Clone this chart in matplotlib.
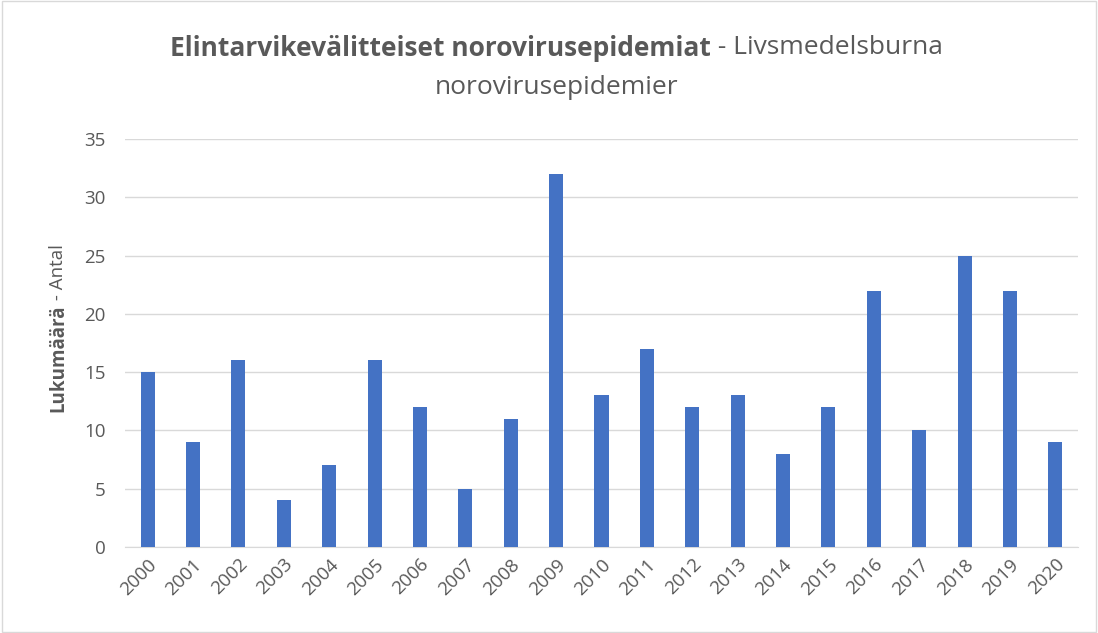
import matplotlib.pyplot as plt
from matplotlib.patches import Rectangle

years = [str(y) for y in range(2000, 2021)]
counts = [15, 9, 16, 4, 7, 16, 12, 5, 11, 32, 13, 17, 12, 13, 8, 12, 22, 10, 25, 22, 9]
yticks = [0, 5, 10, 15, 20, 25, 30, 35]

plt.rcParams['font.family'] = ['Open Sans', 'DejaVu Sans']

fig = plt.figure(figsize=(10.98, 6.33), dpi=100)
ax = fig.add_axes([0.1138, 0.1359, 0.868, 0.6445])

ax.bar(range(len(years)), counts, width=0.31, color='#4472C4', zorder=3)
ax.set_xlim(-0.5, len(years) - 0.5)
ax.set_ylim(0, 35)
ax.set_yticks(yticks)
ax.set_xticks(range(len(years)))
ax.set_xticklabels(years, rotation=45, ha='right', rotation_mode='anchor')
ax.tick_params(axis='both', length=0, labelsize=13.5, colors='#595959')
ax.tick_params(axis='x', pad=6)
ax.tick_params(axis='y', pad=14)
ax.grid(axis='y', color='#D9D9D9', linewidth=1, zorder=0)
for s in ['top', 'right', 'left']:
    ax.spines[s].set_visible(False)
ax.spines['bottom'].set_color('#D9D9D9')

# figure border
fig.patches.append(Rectangle((0.002, 0.002), 0.996, 0.996, transform=fig.transFigure,
                             fill=False, edgecolor='#D9D9D9', linewidth=1))

# title with mixed weights
fig.canvas.draw()
r = fig.canvas.get_renderer()
tsize = 19
t1 = fig.text(0, 0, 'Elintarvikevälitteiset norovirusepidemiat', fontsize=tsize,
              fontweight='bold', color='#595959', va='center')
t2 = fig.text(0, 0, ' - Livsmedelsburna', fontsize=tsize, color='#595959', va='center')
w1 = t1.get_window_extent(r).width / fig.bbox.width
w2 = t2.get_window_extent(r).width / fig.bbox.width
cx = 0.507
x0 = cx - (w1 + w2) / 2
y1 = 1 - 48 / 633
t1.set_position((x0, y1))
t2.set_position((x0 + w1, y1))
fig.text(cx, 1 - 88 / 633, 'norovirusepidemier', fontsize=tsize, color='#595959',
         ha='center', va='center')

# y label with mixed weights
l1 = fig.text(0, 0, 'Lukumäärä', fontsize=13.5, fontweight='bold', color='#595959',
              rotation=90, ha='center', va='bottom')
l2 = fig.text(0, 0, ' - Antal', fontsize=13.5, color='#595959',
              rotation=90, ha='center', va='bottom')
h1 = l1.get_window_extent(r).height / fig.bbox.height
h2 = l2.get_window_extent(r).height / fig.bbox.height
ly0 = (1 - 328 / 633) - (h1 + h2) / 2
lx = 58 / 1098
l1.set_position((lx, ly0))
l2.set_position((lx, ly0 + h1))

fig.savefig('out.png', dpi=100)
